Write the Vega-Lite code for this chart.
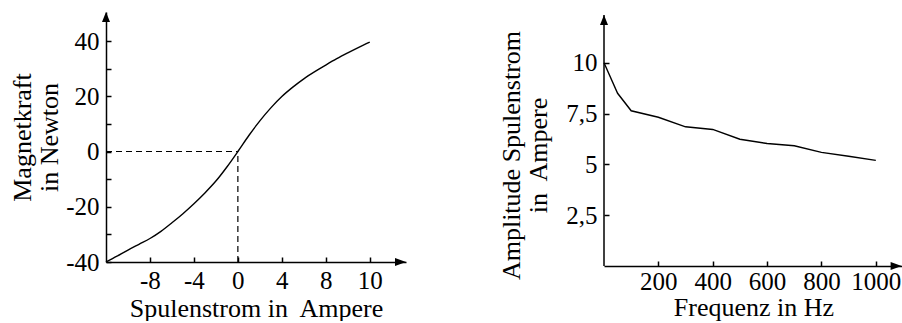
{
  "$schema": "https://vega.github.io/schema/vega-lite/v6.json",
  "background": "white",
  "padding": {"left": 9, "top": 12, "right": 0, "bottom": 0},
  "bounds": "flush",
  "spacing": 198,
  "config": {
    "font": "Liberation Serif",
    "view": {"stroke": null},
    "axis": {
      "grid": false,
      "labelFont": "Liberation Serif",
      "labelFontSize": 25,
      "labelColor": "black",
      "labelFlush": false,
      "labelOverlap": false,
      "labelBound": false,
      "titleFont": "Liberation Serif",
      "titleFontSize": 26,
      "titleFontWeight": "normal",
      "titleColor": "black",
      "titleLineHeight": 27,
      "domainColor": "black",
      "domainWidth": 1.5,
      "tickColor": "black",
      "tickWidth": 1.5,
      "tickSize": -5
    }
  },
  "hconcat": [
    {
      "width": 300,
      "height": 250,
      "encoding": {
        "x": {"field": "x", "type": "quantitative",
              "scale": {"domain": [-12, 15.3], "nice": false, "zero": false},
              "axis": {"values": [-8, -4, 0, 4, 8, 12], "labelExpr": "datum.value == 12 ? '10' : toString(datum.value)", "labelPadding": 11, "title": "Spulenstrom in\u00a0 Ampere", "titlePadding": 2}},
        "y": {"field": "y", "type": "quantitative",
              "scale": {"domain": [-40, 50.5], "nice": false, "zero": false},
              "axis": {"values": [-40, -30, -20, -10, 0, 10, 20, 30, 40], "labelExpr": "datum.value % 20 == 0 ? toString(datum.value) : ''", "labelPadding": 12, "title": ["Magnetkraft", "in Newton"], "titlePadding": 3}}
      },
      "layer": [
        {
          "data": {"values": [
            {"x": -12, "y": -40}, {"x": -11, "y": -37.9}, {"x": -10, "y": -35.7},
            {"x": -9, "y": -33.6}, {"x": -8, "y": -31.5}, {"x": -7, "y": -28.9},
            {"x": -6, "y": -25.8}, {"x": -5, "y": -22.5}, {"x": -4, "y": -18.9},
            {"x": -3, "y": -15.0}, {"x": -2, "y": -10.7}, {"x": -1, "y": -5.6},
            {"x": 0, "y": 0}, {"x": 1, "y": 5.8}, {"x": 2, "y": 11.1},
            {"x": 3, "y": 15.8}, {"x": 4, "y": 19.9}, {"x": 5, "y": 23.3},
            {"x": 6, "y": 26.3}, {"x": 7, "y": 28.9}, {"x": 8, "y": 31.3},
            {"x": 9, "y": 33.6}, {"x": 10, "y": 35.7}, {"x": 11, "y": 37.7},
            {"x": 12, "y": 39.6}
          ]},
          "mark": {"type": "line", "color": "black", "strokeWidth": 1.4, "interpolate": "monotone"}
        },
        {
          "data": {"values": [{"x": -12, "x2": 0, "y": 0}]},
          "mark": {"type": "rule", "color": "black", "strokeWidth": 1.2, "strokeDash": [6, 4]},
          "encoding": {"x2": {"field": "x2"}}
        },
        {
          "data": {"values": [{"x": 0, "y": -40, "y2": 0}]},
          "mark": {"type": "rule", "color": "black", "strokeWidth": 1.2, "strokeDash": [6, 4]},
          "encoding": {"y2": {"field": "y2"}}
        },
        {
          "data": {"values": [{"x": -12, "y": 50.5}]},
          "mark": {"type": "point", "shape": "M0,0L-0.8,2L0.8,2Z", "size": 100, "filled": true, "color": "black", "opacity": 1}
        },
        {
          "data": {"values": [{"x": 15.3, "y": -40}]},
          "mark": {"type": "point", "shape": "M0,0L-2.2,-0.8L-2.2,0.8Z", "size": 100, "filled": true, "color": "black", "opacity": 1}
        }
      ]
    },
    {
      "width": 299,
      "height": 254,
      "encoding": {
        "x": {"field": "x", "type": "quantitative",
              "scale": {"domain": [0, 1100], "nice": false, "zero": false},
              "axis": {"values": [200, 400, 600, 800, 1000], "labelExpr": "toString(datum.value)", "labelPadding": 8, "title": "Frequenz in Hz", "titlePadding": 0}},
        "y": {"field": "y", "type": "quantitative",
              "scale": {"domain": [0, 12.5], "nice": false, "zero": false},
              "axis": {"values": [2.5, 5, 7.5, 10], "labelExpr": "replace(toString(datum.value), '.', ',')", "labelPadding": 12, "domain": false, "title": ["Amplitude Spulenstrom", "in\u00a0 Ampere"], "titlePadding": 14, "titleY": 143}}
      },
      "layer": [
        {
          "data": {"values": [
            {"x": 0, "y": 10.0}, {"x": 50, "y": 8.5}, {"x": 100, "y": 7.64},
            {"x": 200, "y": 7.32}, {"x": 300, "y": 6.85}, {"x": 400, "y": 6.72},
            {"x": 500, "y": 6.24}, {"x": 600, "y": 6.03}, {"x": 700, "y": 5.92},
            {"x": 800, "y": 5.59}, {"x": 900, "y": 5.4}, {"x": 1000, "y": 5.2}
          ]},
          "mark": {"type": "line", "color": "black", "strokeWidth": 1.4}
        },
        {
          "data": {"values": [{"x": 0, "y": 0, "y2": 12.35}]},
          "mark": {"type": "rule", "color": "black", "strokeWidth": 1.5},
          "encoding": {"y2": {"field": "y2"}}
        },
        {
          "data": {"values": [{"x": 0, "y": 12.35}]},
          "mark": {"type": "point", "shape": "M0,0L-0.8,2L0.8,2Z", "size": 100, "filled": true, "color": "black", "opacity": 1}
        },
        {
          "data": {"values": [{"x": 1095, "y": 0}]},
          "mark": {"type": "point", "shape": "M0,0L-2.2,-0.8L-2.2,0.8Z", "size": 100, "filled": true, "color": "black", "opacity": 1}
        }
      ]
    }
  ]
}
